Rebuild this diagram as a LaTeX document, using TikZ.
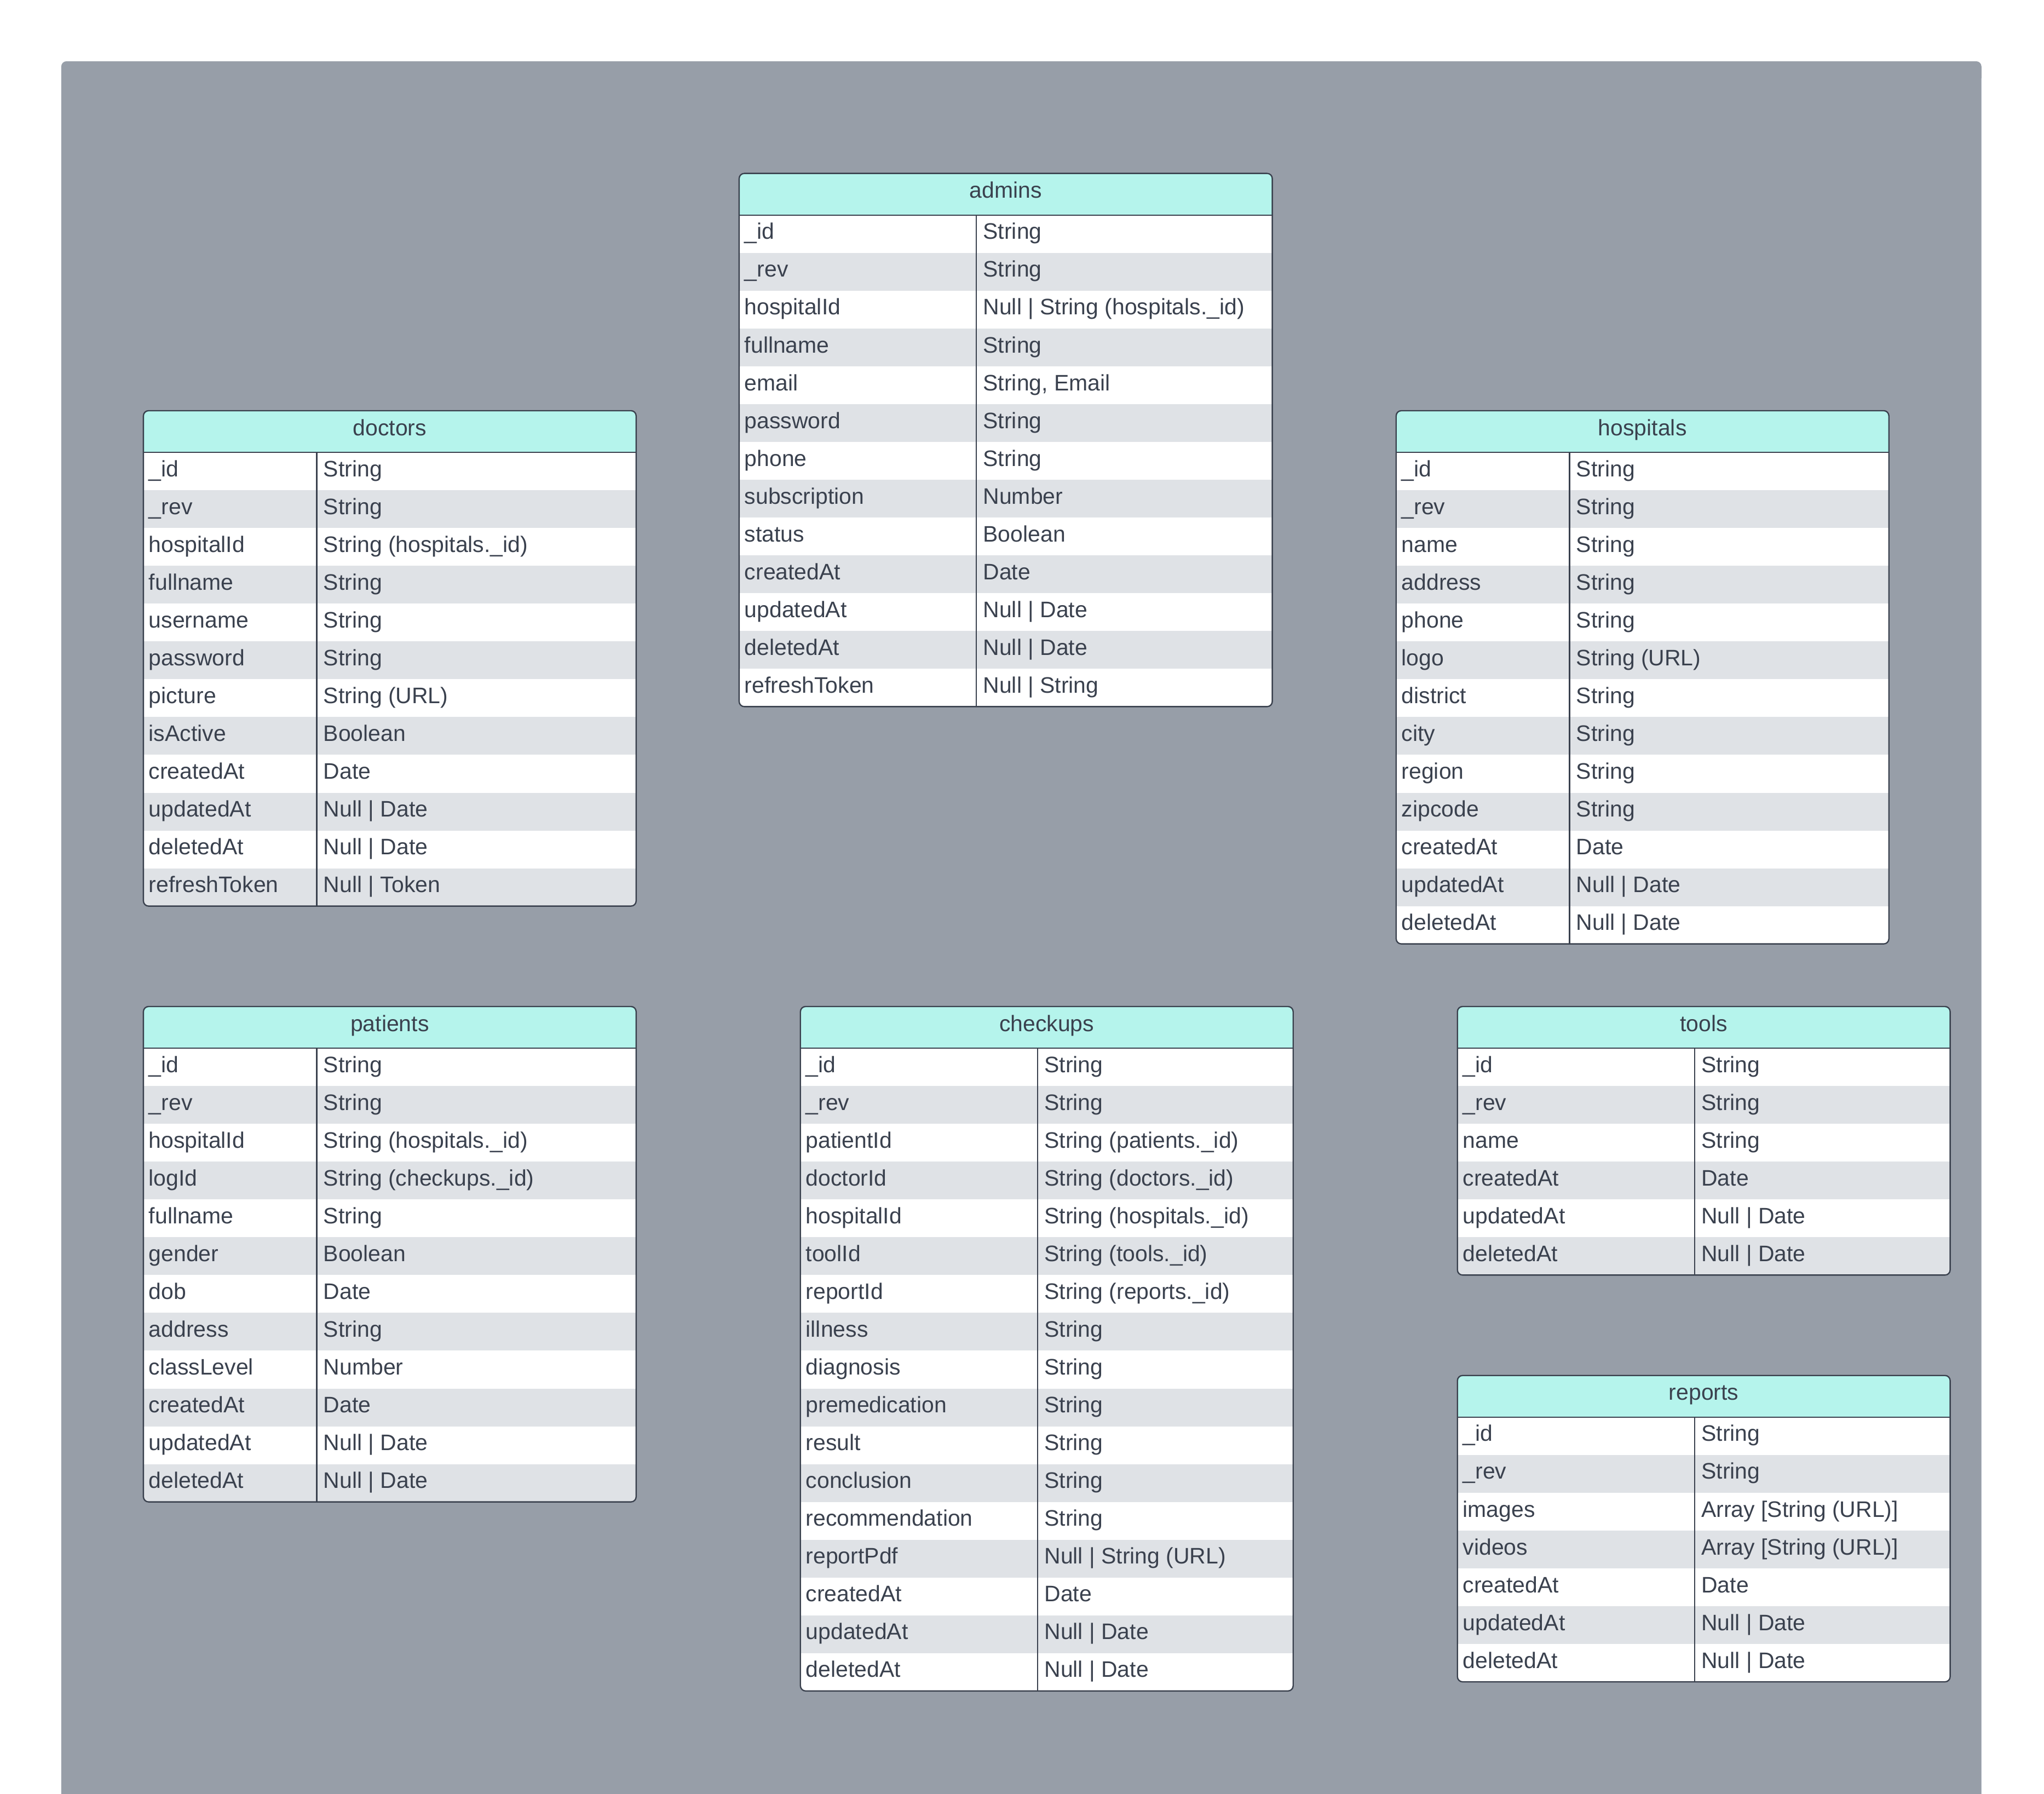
\documentclass[tikz,border=0pt]{standalone}
\usepackage{fontspec}
\setmainfont{Liberation Sans}
\usetikzlibrary{positioning}

\definecolor{panelgray}{HTML}{979EA8}
\definecolor{panelline}{HTML}{AEB6C1}
\definecolor{headfill}{HTML}{B5F4EC}
\definecolor{stripefill}{HTML}{DFE2E6}
\definecolor{inkgray}{HTML}{3A414E}

\tikzset{
  tableline/.style={draw=inkgray, line width=1pt},
  headtext/.style={anchor=base, inner sep=0pt, text=inkgray, font=\fontsize{17.2}{20}\selectfont},
  fieldtext/.style={anchor=base west, inner sep=0pt, text=inkgray, font=\fontsize{17.2}{20}\selectfont},
}

% one collection: name, left, right, divider, top, rows, fields
\newcommand{\erdtable}[7]{%
  \pgfmathsetmacro{\hb}{#5+32}
  \pgfmathsetmacro{\tb}{#5+32+#6*29}
  \begin{scope}
    \clip[rounded corners=4pt] (#2,#5) rectangle (#3,\tb);
    \fill[white] (#2,#5) rectangle (#3,\tb);
    \fill[headfill] (#2,#5) rectangle (#3,\hb);
    \foreach \fld/\typ [count=\i] in {#7}{
      \pgfmathsetmacro{\rt}{\hb+(\i-1)*29}
      \ifodd\i\relax\else \fill[stripefill] (#2,\rt) rectangle (#3,\rt+29); \fi
      \node[fieldtext] (#1-f\i) at (#2+4,\rt+18.5) {\fld};
      \node[fieldtext] (#1-t\i) at (#4+5,\rt+18.5) {\typ};
    }
  \end{scope}
  \node[headtext] (#1) at ({(#2+#3)/2},{#5+19}) {#1};
  \draw[tableline] (#2,\hb) -- (#3,\hb);
  \draw[tableline] (#4,\hb) -- (#4,\tb);
  \draw[tableline, rounded corners=4pt] (#2,#5) rectangle (#3,\tb);
}

\begin{document}
\begin{tikzpicture}[x=1pt, y=-1pt]

  % page and grey panel
  \useasboundingbox (0,0) rectangle (1568,1376);
  \fill[white] (0,0) rectangle (1568,1376);
  \fill[panelgray] (47,1376) [rounded corners=4pt] -- (47,47) -- (1520,47) [sharp corners] -- (1520,1376) -- cycle;
  \draw[panelline, line width=0.5pt] (1520,60) -- (1520,1376);

  % admins
  \erdtable{admins}{567}{976}{749}{133}{13}{%
    \_id/String, \_rev/String, hospitalId/Null | String (hospitals.\_id),
    fullname/String, {email/String, Email}, password/String, phone/String,
    subscription/Number, status/Boolean, createdAt/Date,
    updatedAt/Null | Date, deletedAt/Null | Date, refreshToken/Null | String}

  % doctors
  \erdtable{doctors}{110}{488}{243}{315}{12}{%
    \_id/String, \_rev/String, hospitalId/String (hospitals.\_id),
    fullname/String, username/String, password/String, picture/String (URL),
    isActive/Boolean, createdAt/Date, updatedAt/Null | Date,
    deletedAt/Null | Date, refreshToken/Null | Token}

  % hospitals
  \erdtable{hospitals}{1071}{1449}{1204}{315}{13}{%
    \_id/String, \_rev/String, name/String, address/String, phone/String,
    logo/String (URL), district/String, city/String, region/String,
    zipcode/String, createdAt/Date, updatedAt/Null | Date, deletedAt/Null | Date}

  % patients
  \erdtable{patients}{110}{488}{243}{772}{12}{%
    \_id/String, \_rev/String, hospitalId/String (hospitals.\_id),
    logId/String (checkups.\_id), fullname/String, gender/Boolean, dob/Date,
    address/String, classLevel/Number, createdAt/Date,
    updatedAt/Null | Date, deletedAt/Null | Date}

  % checkups
  \erdtable{checkups}{614}{992}{796}{772}{17}{%
    \_id/String, \_rev/String, patientId/String (patients.\_id),
    doctorId/String (doctors.\_id), hospitalId/String (hospitals.\_id),
    toolId/String (tools.\_id), reportId/String (reports.\_id),
    illness/String, diagnosis/String, premedication/String, result/String,
    conclusion/String, recommendation/String, reportPdf/Null | String (URL),
    createdAt/Date, updatedAt/Null | Date, deletedAt/Null | Date}

  % tools
  \erdtable{tools}{1118}{1496}{1300}{772}{6}{%
    \_id/String, \_rev/String, name/String, createdAt/Date,
    updatedAt/Null | Date, deletedAt/Null | Date}

  % reports
  \erdtable{reports}{1118}{1496}{1300}{1055}{7}{%
    \_id/String, \_rev/String, {images/Array [String (URL)]},
    {videos/Array [String (URL)]}, createdAt/Date,
    updatedAt/Null | Date, deletedAt/Null | Date}

\end{tikzpicture}
\end{document}
